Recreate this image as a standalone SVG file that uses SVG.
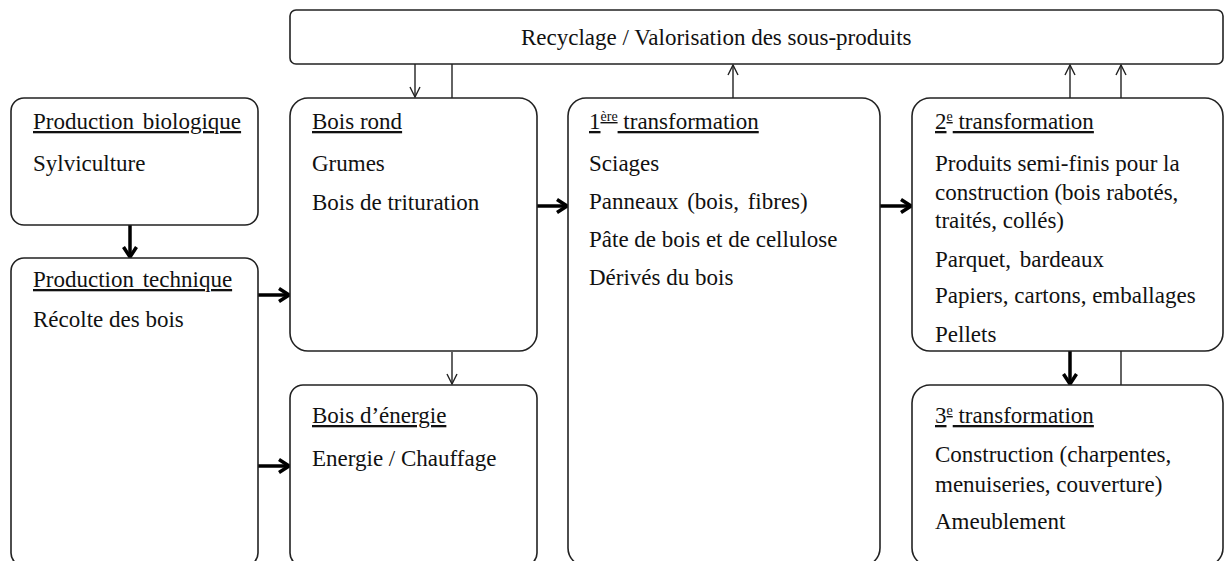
<svg xmlns="http://www.w3.org/2000/svg" width="1225" height="561" viewBox="0 0 1225 561">
<style>
.box{fill:#fff;stroke:#222;stroke-width:1.6}
text{font-family:"Liberation Serif","Times New Roman",serif;font-size:23px;fill:#111}
.t{text-decoration:underline}
.thin{stroke:#222;stroke-width:1.4;fill:none}
.thick{stroke:#000;stroke-width:3.5;fill:none}
</style>
<defs>
<marker id="ah" viewBox="0 0 12 12" refX="11" refY="6" markerWidth="12" markerHeight="12" markerUnits="userSpaceOnUse" orient="auto"><path d="M1,1 L11,6 L1,11" fill="none" stroke="#222" stroke-width="1.4"/></marker>
<marker id="ahb" viewBox="0 0 16 16" refX="13" refY="8" markerWidth="16" markerHeight="16" markerUnits="userSpaceOnUse" orient="auto"><path d="M3,1.5 L13,8 L3,14.5" fill="none" stroke="#000" stroke-width="3.5"/></marker>
</defs>
<g id="connectors">
<line class="thin" x1="415" y1="64" x2="415" y2="97" marker-end="url(#ah)"/>
<line class="thin" x1="452" y1="98" x2="452" y2="64"/>
<line class="thin" x1="733" y1="98" x2="733" y2="65" marker-end="url(#ah)"/>
<line class="thin" x1="1070" y1="98" x2="1070" y2="65" marker-end="url(#ah)"/>
<line class="thin" x1="1121" y1="98" x2="1121" y2="65" marker-end="url(#ah)"/>
<line class="thick" x1="130" y1="225" x2="130" y2="257" marker-end="url(#ahb)"/>
<line class="thick" x1="258" y1="295" x2="289" y2="295" marker-end="url(#ahb)"/>
<line class="thick" x1="258" y1="466" x2="289" y2="466" marker-end="url(#ahb)"/>
<line class="thin" x1="452" y1="352" x2="452" y2="384" marker-end="url(#ah)"/>
<line class="thick" x1="537" y1="206" x2="567" y2="206" marker-end="url(#ahb)"/>
<line class="thick" x1="880" y1="206" x2="911" y2="206" marker-end="url(#ahb)"/>
<line class="thick" x1="1070" y1="351" x2="1070" y2="384" marker-end="url(#ahb)"/>
<line class="thin" x1="1121" y1="351" x2="1121" y2="385"/>
</g>
<g id="recyclage">
<rect class="box" x="290" y="10" width="933" height="54" rx="6"/>
<text x="521" y="45">Recyclage / Valorisation des sous-produits</text>
</g>
<g id="prod-bio">
<rect class="box" x="11" y="98" width="247" height="127" rx="13"/>
<text class="t" x="33" y="129" word-spacing="3">Production biologique</text>
<text x="33" y="171">Sylviculture</text>
</g>
<g id="prod-tech">
<rect class="box" x="11" y="258" width="247" height="308" rx="13"/>
<text class="t" x="33" y="287" word-spacing="3">Production technique</text>
<text x="33" y="327">Récolte des bois</text>
</g>
<g id="bois-rond">
<rect class="box" x="290" y="98" width="247" height="253" rx="18"/>
<text class="t" x="312" y="129">Bois rond</text>
<text x="312" y="171">Grumes</text>
<text x="312" y="210">Bois de trituration</text>
</g>
<g id="bois-energie">
<rect class="box" x="290" y="385" width="247" height="181" rx="13"/>
<text class="t" x="312" y="423">Bois d’énergie</text>
<text x="312" y="466">Energie / Chauffage</text>
</g>
<g id="transfo1">
<rect class="box" x="568" y="98" width="312" height="468" rx="18"/>
<text class="t" x="589" y="129">1<tspan font-size="14" dy="-8">ère</tspan><tspan dy="8"> transformation</tspan></text>
<text x="589" y="171">Sciages</text>
<text x="589" y="209" word-spacing="3">Panneaux (bois, fibres)</text>
<text x="589" y="247">Pâte de bois et de cellulose</text>
<text x="589" y="285">Dérivés du bois</text>
</g>
<g id="transfo2">
<rect class="box" x="912" y="98" width="311" height="253" rx="18"/>
<text class="t" x="935" y="129">2<tspan font-size="14" dy="-8">e</tspan><tspan dy="8"> transformation</tspan></text>
<text x="935" y="171">Produits semi-finis pour la</text>
<text x="935" y="200">construction (bois rabotés,</text>
<text x="935" y="228">traités, collés)</text>
<text x="935" y="267" word-spacing="3">Parquet, bardeaux</text>
<text x="935" y="303">Papiers, cartons, emballages</text>
<text x="935" y="342">Pellets</text>
</g>
<g id="transfo3">
<rect class="box" x="912" y="385" width="311" height="181" rx="18"/>
<text class="t" x="935" y="423">3<tspan font-size="14" dy="-8">e</tspan><tspan dy="8"> transformation</tspan></text>
<text x="935" y="462">Construction (charpentes,</text>
<text x="935" y="492">menuiseries, couverture)</text>
<text x="935" y="529">Ameublement</text>
</g>
</svg>
